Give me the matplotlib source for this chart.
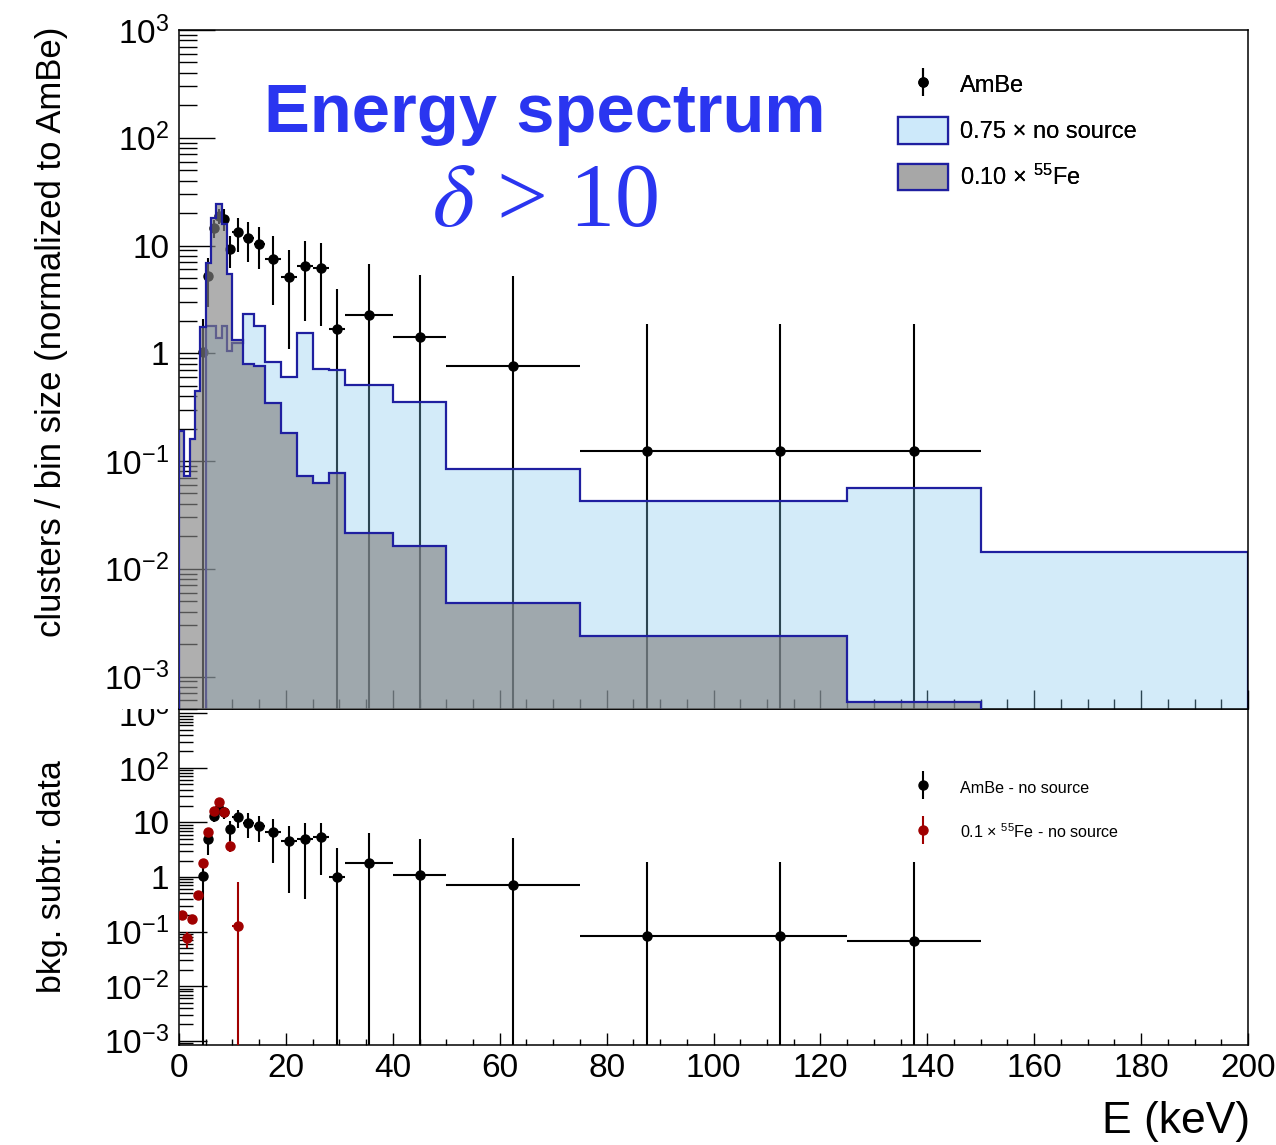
import numpy as np
import matplotlib
matplotlib.use("Agg")
import matplotlib.pyplot as plt
from matplotlib.ticker import FixedLocator, MultipleLocator, FuncFormatter, NullFormatter
from matplotlib.lines import Line2D
from matplotlib.patches import Patch

plt.rcParams["font.family"] = ["Liberation Sans", "DejaVu Sans"]
plt.rcParams["mathtext.fontset"] = "custom"
plt.rcParams["mathtext.rm"] = "Liberation Sans"
plt.rcParams["mathtext.it"] = "Liberation Sans:italic"
plt.rcParams["mathtext.bf"] = "Liberation Sans:bold"

# ---------------- data ----------------
# energy bin edges (keV)
edges = [0, 1, 2, 3, 4, 5, 6, 7, 8, 9, 10, 12, 14, 16, 19, 22, 25, 28, 31,
         40, 50, 75, 100, 125, 150, 200]

# 0.75 x no-source spectrum (clusters / bin size)
nosource_075 = [0, 0, 0, 0, 0, 1.79, 1.79, 1.40, 1.79, 1.05, 1.25, 2.3, 1.79,
                0.83, 0.60, 1.53, 0.71, 0.70, 0.51, 0.355, 0.085, 0.043,
                0.043, 0.056, 0.0144]

# 0.10 x 55Fe spectrum (clusters / bin size)
fe55_010 = [0.19, 0.073, 0.16, 0.45, 1.74, 6.9, 18.0, 24.3, 16.0, 5.4, 1.32,
            0.79, 0.77, 0.344, 0.184, 0.073, 0.063, 0.077, 0.0216, 0.0163,
            0.0048, 0.0024, 0.0024, 0.00058, 0]

# AmBe data
ambe_x = [4.5, 5.5, 6.5, 7.5, 8.5, 9.5, 11, 13, 15, 17.5, 20.5, 23.5, 26.5,
          29.5, 35.5, 45, 62.5, 87.5, 112.5, 137.5]
ambe_y = [1.03, 5.2, 14.6, 18.7, 17.7, 9.2, 13.3, 11.8, 10.4, 7.5, 5.1, 6.5,
          6.2, 1.69, 2.26, 1.43, 0.77, 0.124, 0.124, 0.124]
ambe_err = [1.03, 2.5, 2.8, 3.0, 4.0, 3.0, 4.6, 4.8, 4.4, 4.7, 4.0, 4.5, 4.4,
            2.3, 4.5, 3.9, 4.4, 1.74, 1.74, 1.74]

# background-subtracted: AmBe - no source
sub_ambe_y = [1.04, 4.9, 13.1, 17.4, 15.3, 7.5, 12.4, 9.9, 8.7, 6.8, 4.6,
              5.0, 5.5, 1.0, 1.83, 1.09, 0.71, 0.083, 0.083, 0.067]
sub_ambe_err = [1.04, 2.4, 2.8, 3.0, 3.5, 3.0, 4.6, 4.8, 4.4, 5.0, 4.1, 4.6,
                4.4, 2.35, 4.5, 3.9, 4.4, 1.8, 1.8, 1.8]

# background-subtracted: 0.1 x 55Fe - no source
sub_fe_x = [0.5, 1.5, 2.5, 3.5, 4.5, 5.5, 6.5, 7.5, 8.5, 9.5, 11]
sub_fe_y = [0.20, 0.075, 0.17, 0.47, 1.78, 6.8, 16.4, 24.0, 15.7, 3.7, 0.127]
sub_fe_err = [0.04, 0.025, 0.03, 0.05, 0.15, 0.4, 0.8, 1.0, 0.9, 0.8, 0.69]

# ---------------- helpers ----------------
edges_a = np.asarray(edges, float)


def half_widths(xs):
    xs = np.asarray(xs, float)
    idx = np.searchsorted(edges_a, xs)
    lo = edges_a[idx - 1]
    hi = edges_a[idx]
    return np.vstack([xs - lo, hi - xs])


def asym(vals, errs):
    v = np.asarray(vals, float)
    e = np.asarray(errs, float)
    lower = np.minimum(e, v * (1 - 1e-7))
    return np.vstack([lower, e])


def log_label(v, pos):
    e = int(round(np.log10(v)))
    if e == 0:
        return "1"
    if e == 1:
        return "10"
    return r"$10^{%d}$" % e


def log_ticks(lo, hi):
    """Decade ticks and 2..9 sub-ticks lying inside [lo, hi]."""
    dmin = int(np.floor(np.log10(lo)))
    dmax = int(np.ceil(np.log10(hi)))
    major = [10.0 ** d for d in range(dmin, dmax + 1) if lo <= 10.0 ** d <= hi]
    minor = [m * 10.0 ** d for d in range(dmin, dmax + 1) for m in range(2, 10)
             if lo <= m * 10.0 ** d <= hi]
    return major, minor


NAVY = "#1f1fa0"
LIGHTBLUE = (129 / 255, 198 / 255, 238 / 255, 0.35)
GRAY = (131 / 255, 131 / 255, 131 / 255, 0.64)
LEG_BLUE = "#cde9fa"
LEG_GRAY = "#a7a7a7"
TITLE_BLUE = "#2a35f0"
RED = "#a00000"
BASE = 1e-7

W_PX, H_PX = 1276, 1145
fig = plt.figure(figsize=(W_PX / 100, H_PX / 100), dpi=100)

x0, x1 = 179, 1248
y_top, y_mid, y_bot = 30, 709, 1045
L = x0 / W_PX
W = (x1 - x0) / W_PX

ax_lo = fig.add_axes([L, 1 - y_bot / H_PX, W, (y_bot - y_mid) / H_PX], zorder=0)
ax_bg = fig.add_axes([0, 1 - y_mid / H_PX, 1, y_mid / H_PX], zorder=1)
ax_bg.set_xticks([])
ax_bg.set_yticks([])
for s in ax_bg.spines.values():
    s.set_visible(False)
ax_bg.set_facecolor("white")
ax_up = fig.add_axes([L, 1 - y_mid / H_PX, W, (y_mid - y_top) / H_PX], zorder=2)


def style_axis(ax, ylim, xmaj, xmin, ymaj, ymin, labelbottom):
    ax.set_xlim(0, 200)
    ax.set_yscale("log")
    ax.set_ylim(*ylim)
    major, minor = log_ticks(*ylim)
    ax.xaxis.set_major_locator(MultipleLocator(20))
    ax.xaxis.set_minor_locator(MultipleLocator(5))
    ax.yaxis.set_major_locator(FixedLocator(major))
    ax.yaxis.set_minor_locator(FixedLocator(minor))
    ax.yaxis.set_major_formatter(FuncFormatter(log_label))
    ax.yaxis.set_minor_formatter(NullFormatter())
    ax.tick_params(which="both", direction="in", top=False, right=False,
                   color="black", width=1.0, labelsize=24)
    ax.tick_params(axis="x", which="major", length=xmaj, pad=6,
                   labelbottom=labelbottom)
    ax.tick_params(axis="x", which="minor", length=xmin)
    ax.tick_params(axis="y", which="major", length=ymaj, pad=7)
    ax.tick_params(axis="y", which="minor", length=ymin)
    for s in ax.spines.values():
        s.set_linewidth(1.1)


# ---------------- upper panel ----------------
style_axis(ax_up, (5e-4, 1e3), 14, 7, 26, 13, False)

ax_up.errorbar(ambe_x, ambe_y, yerr=asym(ambe_y, ambe_err),
               xerr=half_widths(ambe_x), fmt="o", color="black", ms=6.5,
               elinewidth=1.5, capsize=0, zorder=1.5)

ns = np.where(np.asarray(nosource_075) > 0, nosource_075, BASE)
fe = np.where(np.asarray(fe55_010) > 0, fe55_010, BASE)
ax_up.stairs(ns, edges, baseline=BASE, fill=True, facecolor=LIGHTBLUE,
             edgecolor="none", zorder=2)
ax_up.stairs(ns, edges, baseline=BASE, fill=False, edgecolor=NAVY, lw=1.6,
             zorder=2.1)
ax_up.stairs(fe, edges, baseline=BASE, fill=True, facecolor=GRAY,
             edgecolor="none", zorder=3)
ax_up.stairs(fe, edges, baseline=BASE, fill=False, edgecolor=NAVY, lw=1.6,
             zorder=3.1)

fig.text(545 / W_PX, 1 - 132 / H_PX, "Energy spectrum", fontsize=49.5,
         fontweight="bold", color=TITLE_BLUE, ha="center", va="baseline",
         zorder=5)
fig.text(545 / W_PX, 1 - 226 / H_PX, r"$\delta$ > 10", fontsize=65,
         family="Liberation Serif", color=TITLE_BLUE, ha="center",
         va="baseline", math_fontfamily="stix", zorder=5)

h_ambe = (Line2D([], [], ls="none", marker="|", ms=19.5, mew=1.5, color="black"),
          Line2D([], [], ls="none", marker="o", ms=6.5, color="black"))
h_ns = Patch(facecolor=LEG_BLUE, edgecolor=NAVY, lw=1.6)
h_fe = Patch(facecolor=LEG_GRAY, edgecolor=NAVY, lw=1.6)
leg_up = ax_up.legend([h_ambe, h_ns, h_fe],
                      ["AmBe", "0.75 × no source", r"0.10 × $^{55}$Fe"],
                      loc="upper left", bbox_to_anchor=(898 / W_PX, 1 - 71 / H_PX),
                      bbox_transform=fig.transFigure, frameon=False,
                      fontsize=17, handlelength=2.12, handleheight=1.36,
                      handletextpad=0.5, labelspacing=0.83, borderpad=0,
                      borderaxespad=0)
ax_up.add_artist(leg_up)

# ---------------- lower panel ----------------
style_axis(ax_lo, (10 ** -3.08, 10 ** 3.08), 9, 4.5, 20, 10, True)

ax_lo.errorbar(ambe_x, sub_ambe_y, yerr=asym(sub_ambe_y, sub_ambe_err),
               xerr=half_widths(ambe_x), fmt="o", color="black",
               ms=6.5, elinewidth=1.5, capsize=0, zorder=2)
ax_lo.errorbar(sub_fe_x, sub_fe_y, yerr=asym(sub_fe_y, sub_fe_err),
               xerr=half_widths(sub_fe_x), fmt="o", color=RED,
               ms=6.5, elinewidth=1.5, capsize=0, zorder=3)

h_sub_a = (Line2D([], [], ls="none", marker="|", ms=19.5, mew=1.5, color="black"),
           Line2D([], [], ls="none", marker="o", ms=6.5, color="black"))
h_sub_f = (Line2D([], [], ls="none", marker="|", ms=19.5, mew=1.5, color=RED),
           Line2D([], [], ls="none", marker="o", ms=6.5, color=RED))
ax_lo.legend([h_sub_a, h_sub_f],
             ["AmBe - no source", r"0.1 × $^{55}$Fe - no source"],
             loc="upper left", bbox_to_anchor=(898 / W_PX, 1 - 777 / H_PX),
             bbox_transform=fig.transFigure, frameon=False, fontsize=11.6,
             handlelength=3.1, handleheight=1.7, handletextpad=0.75,
             labelspacing=1.41, borderpad=0, borderaxespad=0)

# ---------------- axis titles ----------------
fig.text(52 / W_PX, 1 - 332 / H_PX, "clusters / bin size (normalized to AmBe)",
         rotation=90, fontsize=25, ha="center", va="center")
fig.text(52 / W_PX, 1 - 877 / H_PX, "bkg. subtr. data",
         rotation=90, fontsize=24.5, ha="center", va="center")
fig.text(1250 / W_PX, 1 - 1121 / H_PX, "E (keV)", fontsize=32,
         ha="right", va="center")

fig.savefig("out.png", dpi=100)
